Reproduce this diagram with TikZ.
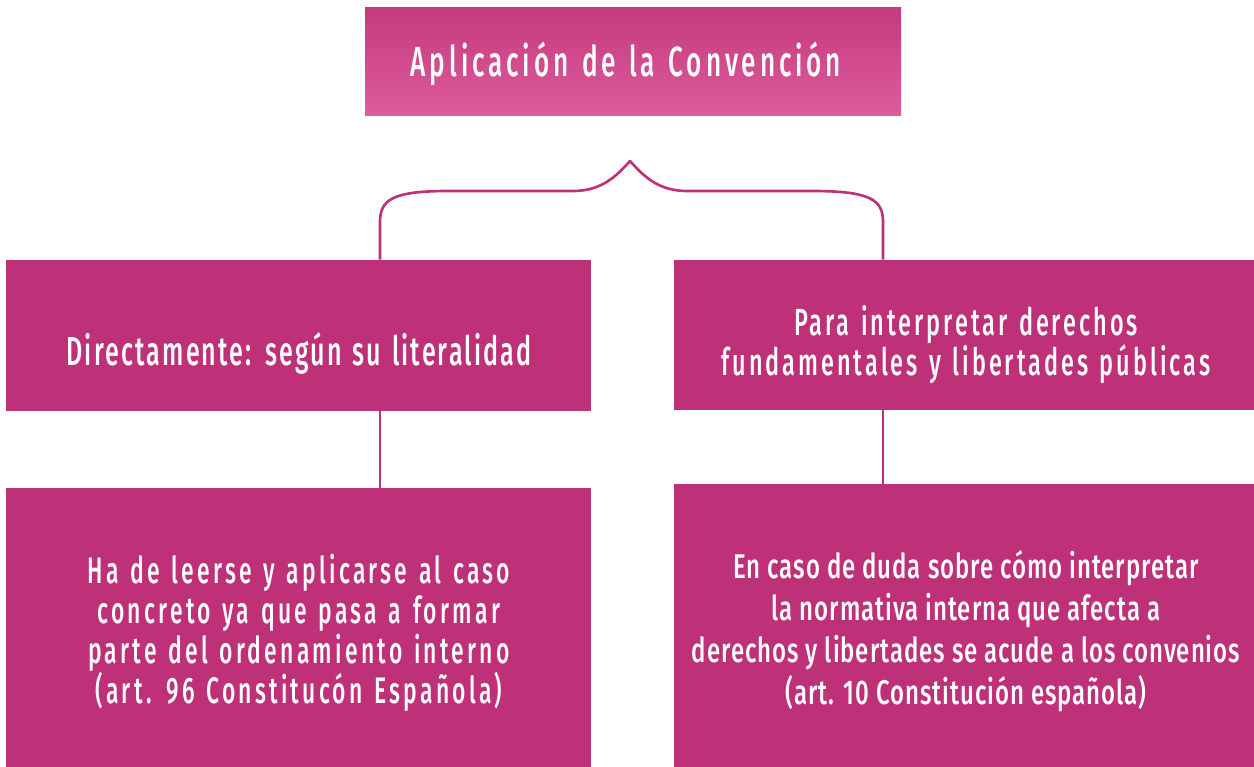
\documentclass[tikz,border=0pt]{standalone}
\usepackage{fontspec}
\setmainfont{Fira Sans}[UprightFont={* Medium}, FakeStretch=0.62]
\newfontfamily\ftitle{Fira Sans}[UprightFont={* Medium}, FakeStretch=0.62, LetterSpace=9.2, WordSpace=1.3]
\newfontfamily\fmidl{Fira Sans}[UprightFont={* Medium}, FakeStretch=0.62, LetterSpace=5.3, WordSpace=1.3]
\newfontfamily\fmidr{Fira Sans}[UprightFont={* Medium}, FakeStretch=0.62, LetterSpace=7.9, WordSpace=1.3]
\newfontfamily\fbl{Fira Sans}[UprightFont={* Medium}, FakeStretch=0.62, LetterSpace=8.8, WordSpace=1.3]
\newfontfamily\fbr{Fira Sans}[UprightFont={* Medium}, FakeStretch=0.70, LetterSpace=2.8]
\usetikzlibrary{fit}
\definecolor{mag}{HTML}{BE3077}
\definecolor{gtop}{HTML}{C43A7E}
\definecolor{gbot}{HTML}{DE5C9C}
\tikzset{
  box/.style={fill=mag, draw=none, inner sep=0pt},
  txt/.style={text=white, align=center, inner sep=0pt},
  link/.style={draw=mag, line width=1.5pt},
}
\begin{document}
\begin{tikzpicture}[x=0.02cm, y=-0.02cm]
\useasboundingbox (0,0) rectangle (1254,767);
% top box
\shade[top color=gtop, bottom color=gbot] (365,8) rectangle (901,116);
\node[inner sep=0pt, fit={(365,8) (901,116)}] (T) {};
\node[txt, font=\ftitle\fontsize{24}{28}\selectfont] (tT) at (626,64) {Aplicación de la Convención};
% level 1
\node[box, fit={(6,260) (591,411)}] (L1) {};
\node[box, fit={(674,260) (1254,410)}] (R1) {};
\node[txt, font=\fmidl\fontsize{23}{26}\selectfont] (tL1) at (299,353) {Directamente: según su literalidad};
\node[txt, font=\fmidr\fontsize{21.5}{22.7}\selectfont] (tR1) at (966,345) {Para interpretar derechos\\fundamentales y libertades públicas};
% level 2
\node[box, fit={(6,488) (591,767)}] (L2) {};
\node[box, fit={(674,484) (1254,767)}] (R2) {};
\node[txt, font=\fbl\fontsize{21}{22.7}\selectfont] (tL2) at (299,633) {Ha de leerse y aplicarse al caso\\concreto ya que pasa a formar\\parte del ordenamiento interno\\(art. 96 Constitucón Española)};
\node[txt, font=\fbr\fontsize{19.5}{23.8}\selectfont] (tR2) at (966,631) {En caso de duda sobre cómo interpretar\\la normativa interna que afecta a\\derechos y libertades se acude a los convenios\\(art. 10 Constitución española)};
% brace
\coordinate (bl) at (380,222);
\coordinate (br) at (883,222);
\coordinate (tip) at (630,161);
\draw[link, line join=round] (L1.north -| bl) -- (bl) .. controls (380,200) and (392,191) .. (448,191) -- (573,191) .. controls (600,191) and (615,178) .. (tip) .. controls (645,178) and (660,191) .. (687,191) -- (812,191) .. controls (871,191) and (883,200) .. (br) -- (R1.north -| br);
% vertical links
\draw[link] (L1.south -| bl) -- (L2.north -| bl);
\draw[link] (R1.south -| br) -- (R2.north -| br);
\end{tikzpicture}
\end{document}
